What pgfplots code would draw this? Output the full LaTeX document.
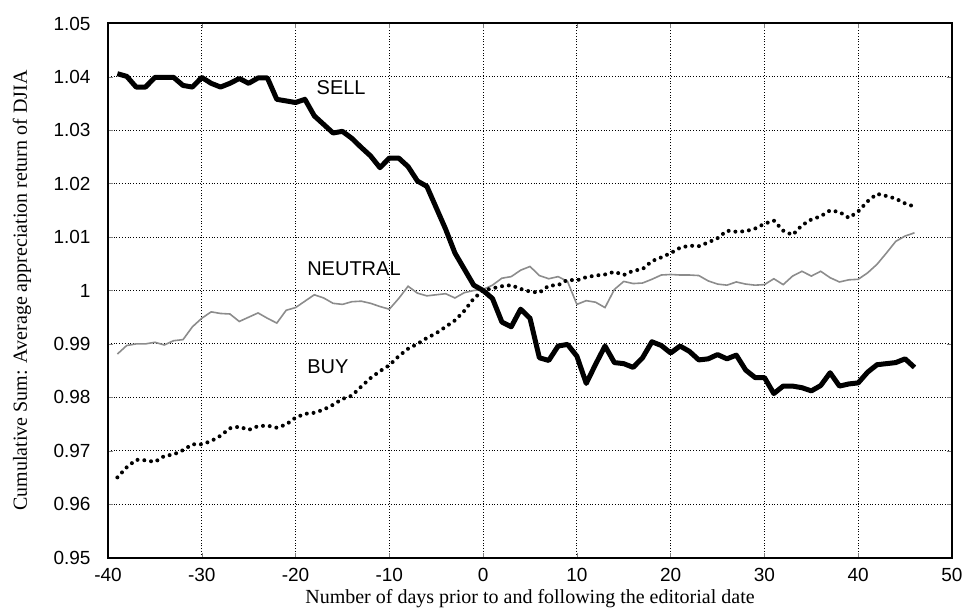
\documentclass[border=0pt]{standalone}
\usepackage{fontspec}
\setmainfont{Liberation Serif}
\setsansfont{Liberation Sans}
\usepackage{pgfplots}
\usepackage{pgfplotstable}
\pgfplotsset{compat=1.18}

% cumulative sums per day around the editorial date
\pgfplotstableread{
d    sell    neutral  buy
-39  1.0406  0.9881   0.9650
-38  1.0401  0.9897   0.9669
-37  1.0381  0.9900   0.9683
-36  1.0381  0.9900   0.9682
-35  1.0399  0.9903   0.9679
-34  1.0399  0.9898   0.9690
-33  1.0399  0.9906   0.9693
-32  1.0384  0.9908   0.9701
-31  1.0381  0.9932   0.9712
-30  1.0399  0.9948   0.9712
-29  1.0388  0.9960   0.9718
-28  1.0381  0.9957   0.9728
-27  1.0388  0.9956   0.9742
-26  1.0397  0.9942   0.9745
-25  1.0388  0.9950   0.9739
-24  1.0398  0.9958   0.9746
-23  1.0398  0.9948   0.9747
-22  1.0358  0.9939   0.9743
-21  1.0355  0.9963   0.9749
-20  1.0352  0.9968   0.9762
-19  1.0358  0.9980   0.9769
-18  1.0327  0.9992   0.9771
-17  1.0311  0.9986   0.9777
-16  1.0295  0.9976   0.9786
-15  1.0298  0.9974   0.9797
-14  1.0285  0.9979   0.9803
-13  1.0268  0.9980   0.9820
-12  1.0252  0.9976   0.9836
-11  1.0230  0.9970   0.9849
-10  1.0248  0.9965   0.9860
-9   1.0248  0.9985   0.9877
-8   1.0232  1.0008   0.9891
-7   1.0205  0.9995   0.9900
-6   1.0195  0.9990   0.9911
-5   1.0155  0.9992   0.9920
-4   1.0115  0.9994   0.9932
-3   1.0070  0.9986   0.9944
-2   1.0040  0.9996   0.9962
-1   1.0010  1.0000   0.9985
0    1.0000  1.0002   1.0000
1    0.9985  1.0010   1.0004
2    0.9941  1.0023   1.0008
3    0.9932  1.0026   1.0010
4    0.9965  1.0038   1.0003
5    0.9948  1.0045   0.9998
6    0.9874  1.0028   0.9996
7    0.9869  1.0022   1.0009
8    0.9896  1.0026   1.0010
9    0.9899  1.0017   1.0020
10   0.9877  0.9974   1.0019
11   0.9826  0.9981   1.0025
12   0.9862  0.9978   1.0028
13   0.9896  0.9968   1.0030
14   0.9865  1.0002   1.0035
15   0.9863  1.0017   1.0029
16   0.9856  1.0013   1.0037
17   0.9874  1.0014   1.0040
18   0.9904  1.0021   1.0055
19   0.9897  1.0029   1.0062
20   0.9883  1.0030   1.0070
21   0.9896  1.0029   1.0080
22   0.9886  1.0029   1.0084
23   0.9870  1.0028   1.0083
24   0.9872  1.0018   1.0090
25   0.9880  1.0012   1.0098
26   0.9872  1.0010   1.0112
27   0.9879  1.0016   1.0110
28   0.9851  1.0012   1.0111
29   0.9837  1.0010   1.0116
30   0.9837  1.0011   1.0125
31   0.9807  1.0022   1.0131
32   0.9821  1.0011   1.0112
33   0.9821  1.0027   1.0104
34   0.9818  1.0036   1.0122
35   0.9812  1.0027   1.0133
36   0.9822  1.0036   1.0139
37   0.9846  1.0024   1.0150
38   0.9821  1.0016   1.0147
39   0.9825  1.0020   1.0136
40   0.9827  1.0021   1.0148
41   0.9847  1.0033   1.0167
42   0.9861  1.0049   1.0181
43   0.9863  1.0070   1.0177
44   0.9865  1.0092   1.0172
45   0.9872  1.0102   1.0163
46   0.9856  1.0108   1.0157
}\djia

\begin{document}
\begin{tikzpicture}
\begin{axis}[
  scale only axis,
  width=422pt,
  height=267pt,
  xmin=-40, xmax=50,
  ymin=0.95, ymax=1.05,
  xtick={-40,-30,...,50},
  ytick={0.95,0.96,0.97,0.98,0.99,1,1.01,1.02,1.03,1.04,1.05},
  yticklabels={0.95,0.96,0.97,0.98,0.99,1,1.01,1.02,1.03,1.04,1.05},
  tick align=inside,
  major tick length=2.5pt,
  axis line style={line width=1pt},
  grid=major,
  major grid style={black, line width=0.5pt, dash pattern=on 0.5pt off 0.9pt},
  /pgf/number format/assume math mode=true,
  tick label style={font=\sffamily\fontsize{9.5}{11}\selectfont},
  yticklabel style={xshift=-5.2pt},
  xticklabel style={yshift=-1.75pt, inner xsep=0pt},
  label style={font=\rmfamily\fontsize{10}{12}\selectfont},
  xlabel={Number of days prior to and following the editorial date},
  ylabel={Cumulative Sum: Average appreciation return of DJIA},
  xlabel style={at={(axis description cs:0.5,-0.0768)}, anchor=center},
  ylabel style={at={(axis description cs:-0.1019,0.5)}, anchor=center},
  clip=true,
]
\addplot[black!45, line width=0.8pt] table[x=d, y=neutral] {\djia};
\addplot[black, line width=2pt, line cap=round, dash pattern=on 0pt off 3.4pt] table[x=d, y=buy] {\djia};
\addplot[black, line width=2.5pt, line join=round] table[x=d, y=sell] {\djia};
\node[anchor=west, font=\sffamily\fontsize{10}{12}\selectfont] at (axis cs:-18.5,1.0380) {SELL};
\node[anchor=west, font=\sffamily\fontsize{10}{12}\selectfont] at (axis cs:-19.5,1.0041) {NEUTRAL};
\node[anchor=west, font=\sffamily\fontsize{10}{12}\selectfont] at (axis cs:-19.5,0.9858) {BUY};
\end{axis}
\pgfresetboundingbox
\path ([xshift=-54pt,yshift=-27pt]current axis.south west) rectangle ([xshift=6.5pt,yshift=11.75pt]current axis.north east);
\end{tikzpicture}
\end{document}
